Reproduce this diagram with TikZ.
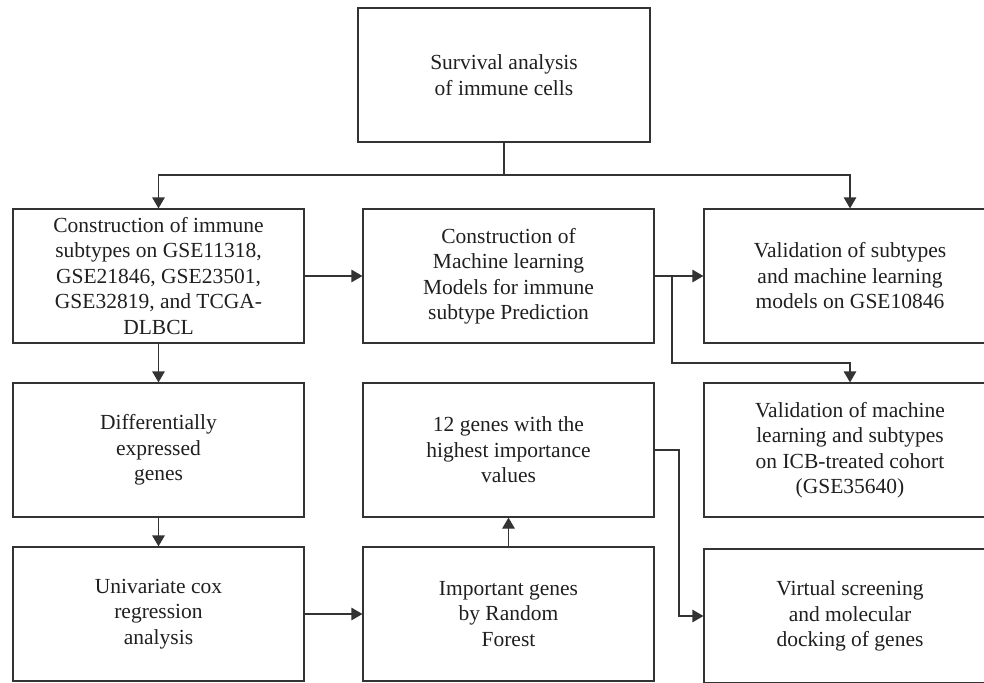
\documentclass[tikz,border=0pt]{standalone}
\usepackage{fontspec}
\setmainfont{Liberation Serif}
\usetikzlibrary{arrows.meta}
\begin{document}
\begin{tikzpicture}[x=1pt,y=-1pt,
  box/.style={draw=black!80, line width=1.2pt, rectangle, inner sep=0pt,
    minimum height=134pt, align=center, text=black!88,
    font=\fontsize{21.5}{25.5}\selectfont},
  wbox/.style={box, minimum width=291pt},
  link/.style={draw=black!80, line width=1.2pt},
  arr/.style={link, -{Triangle[length=11pt,width=12.5pt]}}]
\useasboundingbox (0,0) rectangle (984,682);
\clip (0,0) rectangle (984,682);
\node[box, minimum width=292pt] (top) at (504,75) {Survival analysis\\of immune cells};
\node[wbox] (A) at (158.5,276) {Construction of immune\\subtypes on GSE11318,\\GSE21846, GSE23501,\\GSE32819, and TCGA-\\DLBCL};
\node[wbox] (B) at (508.5,276) {Construction of\\Machine learning\\Models for immune\\subtype Prediction};
\node[box, minimum width=292pt] (C) at (850,276) {Validation of subtypes\\and machine learning\\models on GSE10846};
\node[wbox] (D) at (158.5,450) {Differentially\\expressed\\genes};
\node[wbox] (E) at (508.5,450) {12 genes with the\\highest importance\\values};
\node[box, minimum width=292pt] (F) at (850,450) {Validation of machine\\learning and subtypes\\on ICB-treated cohort\\(GSE35640)};
\node[wbox] (G) at (158.5,614) {Univariate cox\\regression\\analysis};
\node[wbox] (H) at (508.5,614) {Important genes\\by Random\\Forest};
\node[box, minimum width=292pt] (I) at (850,616) {Virtual screening\\and molecular\\docking of genes};
\coordinate (j) at (504,175);
\coordinate (b1) at (672,276);
\coordinate (b2) at (672,363);
\coordinate (e1) at (679,450);
\draw[link] (top.south) -- (j);
\draw[arr] (j) -| (A.north);
\draw[arr] (j) -| (C.north);
\draw[arr] (A) -- (B);
\draw[arr] (B) -- (C);
\draw[arr] (b1) -- (b2) -| (F.north);
\draw[arr] (A) -- (D);
\draw[arr] (D) -- (G);
\draw[arr] (G) -- (H);
\draw[arr] (H) -- (E);
\draw[arr] (E.east) -- (e1) |- (I.west);
\end{tikzpicture}
\end{document}
